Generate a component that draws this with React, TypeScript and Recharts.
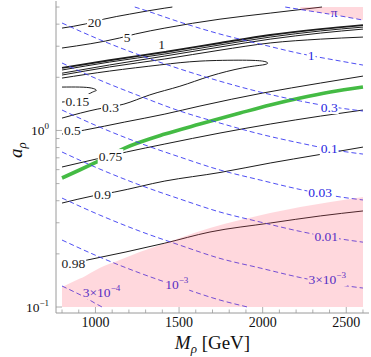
import React from "react";
import { ComposedChart, Line, Area, Scatter, XAxis, YAxis } from "recharts";

const SERIF = '"Liberation Serif", "Times New Roman", serif';
const FRAME = "#9a9a9a";
const BLUE = "#3a3af2";
const BLUE_TEXT = "#2626e0";
const INK = "#1c1c1c";

// axis ticks
const xMajor = [1000, 1500, 2000, 2500];
const xTicks = [800, 900, 1000, 1100, 1200, 1300, 1400, 1500, 1600, 1700, 1800, 1900, 2000, 2100, 2200, 2300, 2400, 2500, 2600];
const yMajor = [0.1, 1];
const yMajorLabels = ["\u22121", "0"];
const yTicks = [0.1, 0.2, 0.3, 0.4, 0.5, 0.6, 0.7, 0.8, 0.9, 1, 2, 3, 4, 5];

type Pt = { m: number; a: number };
const pts = (arr: number[][]): Pt[] => arr.map(([m, a]) => ({ m, a }));

// black contours (M_rho in GeV, a_rho)
const c20 = pts([[800, 3.8], [940, 4.01], [1050, 4.27], [1205, 4.56], [1415, 4.93], [1460, 5.0]]);
const c5 = pts([[800, 2.93], [1145, 3.34], [1240, 3.52], [1415, 3.8], [1745, 4.27], [2045, 4.62], [2355, 5.0]]);
const c1 = pts([[800, 2.26], [1085, 2.5], [1415, 2.78], [1745, 3.13], [2045, 3.47], [2345, 3.75], [2600, 3.95]]);
const c1b = pts([[800, 2.2], [1085, 2.44], [1415, 2.71], [1745, 3.05], [2045, 3.38], [2345, 3.66], [2600, 3.85]]);
const c1c = pts([[800, 2.11], [1085, 2.35], [1415, 2.64], [1745, 2.97], [2045, 3.29], [2345, 3.56], [2600, 3.75]]);
const c1d = pts([[800, 2.06], [1085, 2.29], [1415, 2.54], [1745, 2.85], [2045, 3.13], [2345, 3.29], [2600, 3.38]]);
const c03 = pts([[800, 1.98], [1085, 2.17], [1385, 2.35], [1625, 2.47], [1880, 2.5], [2000, 2.47], [2030, 2.41], [2000, 2.35], [1880, 2.26], [1685, 2.03], [1505, 1.78], [1325, 1.59], [1170, 1.41], [1010, 1.32], [800, 1.175]]);
const c015 = pts([[800, 1.761], [905, 1.761], [975, 1.739], [1005, 1.694], [990, 1.661], [950, 1.587], [890, 1.486], [800, 1.449]]);
const c05 = pts([[800, 0.954], [935, 1.005], [1175, 1.116], [1415, 1.238], [1625, 1.375], [2000, 1.629], [2345, 1.855], [2600, 2.032]]);
const c075 = pts([[800, 0.621], [1005, 0.689], [1185, 0.755], [1415, 0.838], [1745, 0.967], [2045, 1.087], [2345, 1.206], [2600, 1.305]]);
const c09 = pts([[800, 0.388], [980, 0.425], [1115, 0.448], [1415, 0.517], [1745, 0.578], [2045, 0.654], [2325, 0.726], [2600, 0.805]]);
const c098 = pts([[800, 0.173], [950, 0.1845], [1415, 0.23], [1685, 0.266], [2045, 0.299], [2345, 0.328], [2600, 0.35]]);

// green curve
const green = pts([[800, 0.538], [905, 0.597], [1005, 0.662], [1175, 0.795], [1415, 0.954], [1625, 1.087], [1865, 1.255], [2045, 1.393], [2225, 1.526], [2405, 1.65], [2600, 1.761]]);

// blue dashed contours
const bPi = pts([[2135, 5.0], [2285, 4.744], [2435, 4.503], [2600, 4.219]]);
const b1 = pts([[1235, 5.0], [1265, 4.9], [1505, 4.11], [1745, 3.515], [1985, 3.085], [2225, 2.726], [2465, 2.472], [2600, 2.346]]);
const b03 = pts([[800, 4.06], [1025, 3.27], [1265, 2.67], [1505, 2.23], [1745, 1.9], [1985, 1.65], [2225, 1.468], [2465, 1.339], [2600, 1.288]]);
const b01 = pts([[800, 2.41], [1025, 1.93], [1265, 1.566], [1505, 1.288], [1745, 1.101], [1985, 0.954], [2225, 0.848], [2465, 0.765], [2600, 0.735]]);
const b003 = pts([[800, 1.305], [1025, 1.045], [1265, 0.848], [1505, 0.707], [1745, 0.597], [1985, 0.524], [2225, 0.463], [2465, 0.42], [2600, 0.404]]);
const b001 = pts([[800, 0.755], [1025, 0.605], [1265, 0.491], [1505, 0.409], [1745, 0.345], [1985, 0.303], [2225, 0.268], [2465, 0.243], [2600, 0.233]]);
const b3e3 = pts([[800, 0.414], [1025, 0.332], [1265, 0.269], [1505, 0.224], [1745, 0.1885], [1985, 0.1663], [2225, 0.1469], [2465, 0.1332], [2600, 0.1281]]);
const b1e3 = pts([[800, 0.2395], [1025, 0.1919], [1265, 0.1558], [1505, 0.1298], [1745, 0.1095], [1910, 0.1]]);
const b3e4 = pts([[800, 0.1315], [875, 0.1216], [935, 0.1139], [995, 0.1054], [1040, 0.1]]);

// excluded (pink) regions
const exclLow = pts([[800, 0.1298], [875, 0.1404], [940, 0.1498], [970, 0.1558], [1025, 0.1663], [1145, 0.1845], [1265, 0.2048], [1385, 0.2244], [1505, 0.2459], [1685, 0.2802], [1865, 0.3109], [2045, 0.3406], [2225, 0.3683], [2405, 0.3932], [2600, 0.4196]]);
const exclTop = pts([[2225, 4.84], [2435, 4.5], [2600, 4.22]]);

// contour labels
const blackLabels = [
  { m: 995, a: 4.11, t: "20" },
  { m: 1190, a: 3.38, t: "5" },
  { m: 1395, a: 3.085, t: "1" },
  { m: 892, a: 1.468, t: "0.15" },
  { m: 1090, a: 1.357, t: "0.3" },
  { m: 862, a: 1.005, t: "0.5" },
  { m: 1090, a: 0.716, t: "0.75" },
  { m: 1042, a: 0.436, t: "0.9" },
  { m: 868, a: 0.1774, t: "0.98" },
];
const blueLabels = [
  { m: 2428, a: 4.68, t: "\u03c0" },
  { m: 2290, a: 2.673, t: "1" },
  { m: 2398, a: 1.357, t: "0.3" },
  { m: 2398, a: 0.795, t: "0.1" },
  { m: 2344, a: 0.448, t: "0.03" },
  { m: 2380, a: 0.2523, t: "0.01" },
  { m: 2386, a: 0.1441, t: "3\u00d710", s: "\u22123" },
  { m: 1486, a: 0.135, t: "10", s: "\u22123" },
  { m: 1036, a: 0.1216, t: "3\u00d710", s: "\u22124" },
];

const charW = (c: string) => (c === "." ? 0.25 : c === "\u00d7" || c === "\u03c0" || c === "\u2212" ? 0.56 : 0.5);
const textW = (s: string, fs: number) => Array.from(s).reduce((w, c) => w + charW(c) * fs, 0);

function makeLabel(color: string) {
  return (p: any) => {
    const { cx, cy, payload } = p;
    const fs = 13.5;
    const ss = 9;
    const w = textW(payload.t, fs) + (payload.s ? textW(payload.s, ss) : 0) + 2;
    return (
      <g>
        <rect x={cx - w / 2} y={cy - 7} width={w} height={14} fill="#fff" />
        <text x={cx} y={cy + 4.5} textAnchor="middle" fontSize={fs} fontFamily={SERIF} fill={color}>
          {payload.t}
          {payload.s && (
            <tspan dy={-5.5} fontSize={ss}>
              {payload.s}
            </tspan>
          )}
        </text>
      </g>
    );
  };
}

const BottomTick = (p: any) => {
  const major = xMajor.includes(p.payload.value);
  return (
    <g>
      <line x1={p.x} x2={p.x} y1={p.y} y2={p.y - (major ? 6 : 3.5)} stroke={FRAME} strokeWidth={0.8} />
      {major && (
        <text x={p.x} y={p.y + 14} textAnchor="middle" fontSize={14} fontFamily={SERIF} fill="#111">
          {p.payload.value}
        </text>
      )}
    </g>
  );
};

const TopTick = (p: any) => {
  const major = xMajor.includes(p.payload.value);
  return <line x1={p.x} x2={p.x} y1={p.y} y2={p.y + (major ? 6 : 3.5)} stroke={FRAME} strokeWidth={0.8} />;
};

const LeftTick = (p: any) => {
  const idx = yMajor.indexOf(p.payload.value);
  const major = idx >= 0;
  return (
    <g>
      <line x1={p.x} x2={p.x + (major ? 6 : 3.5)} y1={p.y} y2={p.y} stroke={FRAME} strokeWidth={0.8} />
      {major && (
        <text x={p.x - 7} y={p.y + 4.5} textAnchor="end" fontSize={13.5} fontFamily={SERIF} fill="#111">
          10
          <tspan dy={-5.5} fontSize={9}>
            {yMajorLabels[idx]}
          </tspan>
        </text>
      )}
    </g>
  );
};

const RightTick = (p: any) => {
  const major = yMajor.includes(p.payload.value);
  return <line x1={p.x} x2={p.x - (major ? 6 : 3.5)} y1={p.y} y2={p.y} stroke={FRAME} strokeWidth={0.8} />;
};

const XTitle = (p: any) => {
  const { x, y, width } = p.viewBox;
  return (
    <text x={x + width / 2} y={y + 36} textAnchor="middle" fontSize={19} fontFamily={SERIF} fill="#111">
      <tspan fontStyle="italic">M</tspan>
      <tspan fontStyle="italic" fontSize={13} dy={4}>
        {"\u03c1"}
      </tspan>
      <tspan dy={-4}> [GeV]</tspan>
    </text>
  );
};

const YTitle = (p: any) => {
  const { y, height } = p.viewBox;
  const cy = y + height / 2 - 7;
  return (
    <text x={22} y={cy} transform={`rotate(-90 22 ${cy})`} textAnchor="middle" fontSize={19} fontFamily={SERIF} fill="#111">
      <tspan fontStyle="italic">a</tspan>
      <tspan fontStyle="italic" fontSize={13} dy={4}>
        {"\u03c1"}
      </tspan>
    </text>
  );
};

const blackLines = [
  { d: c20, w: 1 },
  { d: c5, w: 1 },
  { d: c1b, w: 1 },
  { d: c1c, w: 1 },
  { d: c1d, w: 1 },
  { d: c1, w: 1.9 },
  { d: c05, w: 1 },
  { d: c075, w: 1 },
  { d: c09, w: 1 },
  { d: c098, w: 1 },
];
const blueLines = [bPi, b1, b03, b01, b003, b001, b3e3, b1e3, b3e4];

const X_DOMAIN = [764, 2636];
const Y_DOMAIN = [0.0925, 5.41];

export default function App() {
  return (
    <div style={{ position: "absolute", left: 0, top: 0, width: 371, height: 357, background: "#fff" }}>
      <ComposedChart width={371} height={357} margin={{ top: 1, right: 2, bottom: 0, left: 0 }}>
        <XAxis
          dataKey="m"
          type="number"
          domain={X_DOMAIN}
          allowDataOverflow
          ticks={xTicks}
          interval={0}
          tickSize={0}
          tickMargin={0}
          tickLine={false}
          tick={<BottomTick />}
          height={44}
          stroke={FRAME}
          label={<XTitle />}
        />
        <XAxis
          xAxisId="top"
          orientation="top"
          type="number"
          domain={X_DOMAIN}
          allowDataOverflow
          ticks={xTicks}
          interval={0}
          tickSize={0}
          tickMargin={0}
          tickLine={false}
          tick={<TopTick />}
          height={0}
          stroke={FRAME}
        />
        <YAxis
          dataKey="a"
          type="number"
          scale="log"
          domain={Y_DOMAIN}
          allowDataOverflow
          ticks={yTicks}
          interval={0}
          tickSize={0}
          tickMargin={0}
          tickLine={false}
          tick={<LeftTick />}
          width={56}
          stroke={FRAME}
          label={<YTitle />}
        />
        <YAxis
          yAxisId="right"
          orientation="right"
          type="number"
          scale="log"
          domain={Y_DOMAIN}
          allowDataOverflow
          ticks={yTicks}
          interval={0}
          tickSize={0}
          tickMargin={0}
          tickLine={false}
          tick={<RightTick />}
          width={0}
          stroke={FRAME}
        />
        {blackLines.map((l, i) => (
          <Line key={"k" + i} data={l.d} dataKey="a" type="monotone" stroke={INK} strokeWidth={l.w} dot={false} isAnimationActive={false} zIndex={400} />
        ))}
        <Line data={c03} dataKey="a" type="natural" stroke={INK} strokeWidth={1} dot={false} isAnimationActive={false} zIndex={400} />
        <Line data={c015} dataKey="a" type="natural" stroke={INK} strokeWidth={1} dot={false} isAnimationActive={false} zIndex={400} />
        <Line data={green} dataKey="a" type="monotone" stroke="#44bb44" strokeWidth={3.6} dot={false} isAnimationActive={false} zIndex={400} />
        {blueLines.map((d, i) => (
          <Line key={"b" + i} data={d} dataKey="a" type="monotone" stroke={BLUE} strokeWidth={0.9} strokeDasharray="5 3" dot={false} isAnimationActive={false} zIndex={400} />
        ))}
        <Scatter data={blackLabels} dataKey="a" shape={makeLabel(INK)} isAnimationActive={false} zIndex={650} />
        <Scatter data={blueLabels} dataKey="a" shape={makeLabel(BLUE_TEXT)} isAnimationActive={false} zIndex={650} />
        <Area data={exclLow} dataKey="a" baseValue={0.1} type="monotone" stroke="none" fill="#ff4d66" fillOpacity={0.22} isAnimationActive={false} zIndex={700} />
        <Area data={exclTop} dataKey="a" baseValue={5} type="linear" stroke="none" fill="#ff4d66" fillOpacity={0.22} isAnimationActive={false} zIndex={700} />
      </ComposedChart>
    </div>
  );
}
